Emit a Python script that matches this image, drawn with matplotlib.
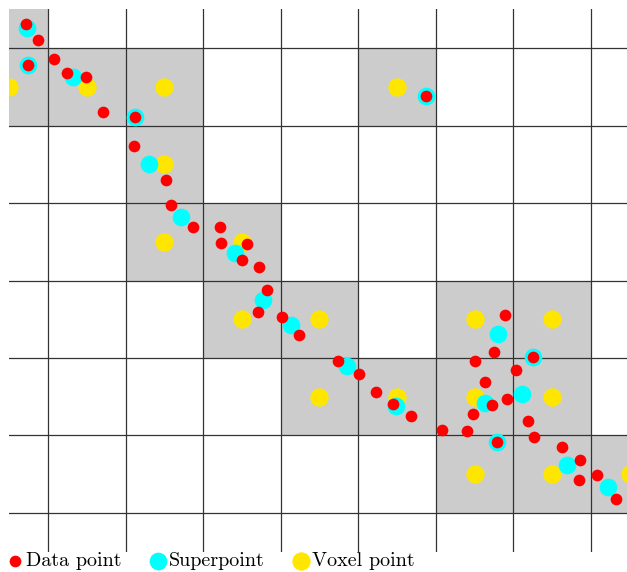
import matplotlib
matplotlib.use("Agg")
import matplotlib.pyplot as plt
from matplotlib.patches import Rectangle

plt.rcParams['font.family'] = ['cmr10', 'DejaVu Serif']
plt.rcParams['mathtext.fontset'] = 'cm'
plt.rcParams['axes.unicode_minus'] = False

# Grid units: column c spans [c, c+1], row r spans [r, r+1] (rows counted downward)
gray_cols = [0, 0, 1, 2, 2, 2, 3, 3, 4, 4, 5, 5, 6, 7, 6, 7, 6, 7, 8]
gray_rows = [0, 1, 1, 1, 2, 3, 3, 4, 4, 5, 5, 1, 4, 4, 5, 5, 6, 6, 6]

voxel_cols = [0, 1, 2, 2, 2, 3, 3, 4, 4, 5, 5, 6, 7, 6, 7, 6, 7, 8]
voxel_rows = [1, 1, 1, 2, 3, 3, 4, 4, 5, 5, 1, 4, 4, 5, 5, 6, 6, 6]

data_x = [0.712, 0.875, 0.746, 1.077, 1.249, 1.486, 1.705, 2.122, 2.113, 2.518,
          2.586, 2.870, 3.218, 3.231, 3.566, 3.498, 3.717, 3.820, 3.704, 4.021,
          4.237, 4.736, 5.006, 5.229, 5.453, 5.681, 6.077, 6.403, 6.893, 6.747,
          6.502, 7.250, 7.035, 6.631, 6.725, 6.919, 6.480, 7.193, 7.271, 6.786,
          7.624, 7.860, 7.843, 8.075, 8.320, 5.870]
data_y = [0.688, 0.899, 1.213, 1.135, 1.325, 1.368, 1.828, 1.892, 2.266, 2.709,
          3.031, 3.315, 3.315, 3.512, 3.534, 3.731, 3.827, 4.118, 4.402, 4.475,
          4.698, 5.043, 5.213, 5.438, 5.588, 5.752, 5.932, 5.941, 4.440, 4.923,
          5.043, 4.987, 5.150, 5.309, 5.610, 5.533, 5.717, 5.812, 6.023, 6.078,
          6.148, 6.319, 6.581, 6.513, 6.826, 1.613]

super_x = [0.725, 0.738, 1.318, 2.122, 2.306, 2.715, 3.411, 3.769, 4.130, 4.859,
           5.487, 5.870, 6.799, 7.250, 6.635, 7.112, 6.786, 7.689, 8.225]
super_y = [0.740, 1.217, 1.377, 1.892, 2.502, 3.186, 3.646, 4.256, 4.578, 5.107,
           5.623, 1.613, 4.694, 4.987, 5.575, 5.468, 6.078, 6.375, 6.663]

legend_labels = ["Data point", "Superpoint", "Voxel point"]

RED = "#ff0000"
CYAN = "#00ffff"
YELLOW = "#ffe600"
GRAY = "#cccccc"

W, H = 627, 572
fig = plt.figure(figsize=(W / 100, H / 100), dpi=100)
ax = fig.add_axes([9.3 / W, 1 - 551.7 / H, (W - 9.3) / W, (551.7 - 9.3) / H])
ax.set_xlim(0.5, 8.466)
ax.set_ylim(7.5, 0.5)
ax.axis('off')

for c, r in zip(gray_cols, gray_rows):
    ax.add_patch(Rectangle((c, r), 1, 1, facecolor=GRAY, edgecolor='none', zorder=1))

for xv in range(1, 9):
    ax.axvline(xv, color='#333333', lw=0.9, zorder=2)
for yv in range(1, 8):
    ax.axhline(yv, color='#333333', lw=0.9, zorder=2)

vx = [c + 0.5 for c in voxel_cols]
vy = [r + 0.5 for r in voxel_rows]
hy = ax.scatter(vx, vy, s=174, c=YELLOW, linewidths=0, zorder=3)
hc = ax.scatter(super_x, super_y, s=162, c=CYAN, linewidths=0, zorder=4)
hr = ax.scatter(data_x, data_y, s=71, c=RED, linewidths=0, zorder=5)

fig.legend([hr, hc, hy], legend_labels, loc='center left',
           bbox_to_anchor=(9 / W, 1 - 561 / H), ncol=3, frameon=False,
           fontsize=14.5, handlelength=0.6, handletextpad=0.25,
           columnspacing=1.5, borderpad=0, borderaxespad=0, scatterpoints=1)

fig.savefig("out.png", dpi=100)
